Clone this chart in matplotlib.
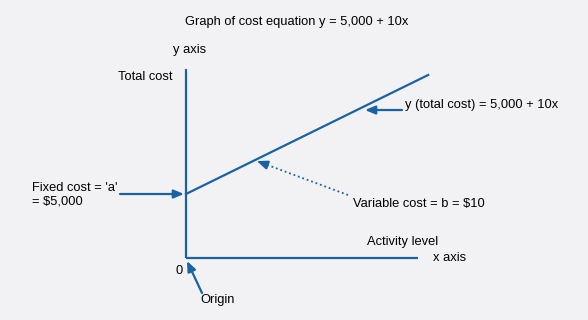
import matplotlib
matplotlib.use("Agg")
import matplotlib.pyplot as plt

# chart values
activity = [0, 930]
total_cost = [5000, 14300]
fixed_cost = 5000
axis_top = 14800
axis_right = 890

blue = "#1a62a3"
bg = "#f2f2f4"

plt.rcParams["font.family"] = ["Liberation Sans", "DejaVu Sans"]

fig = plt.figure(figsize=(5.88, 3.2), dpi=100, facecolor=bg)
ax = fig.add_axes([0, 0, 1, 1])
ax.set_facecolor(bg)

# pixel <-> data scale (origin sits at pixel 186, 258)
sx, sy = 3.84, 78.125
ox, oy = 186, 258
ax.set_xlim(-ox * sx, (588 - ox) * sx)
ax.set_ylim(-(320 - oy) * sy, oy * sy)
ax.axis("off")


def px(x, y):
    return ((x - ox) * sx, (oy - y) * sy)


# axes
ax.plot([0, 0], [0, axis_top], color=blue, lw=1.6, solid_capstyle="butt")
ax.plot([0, axis_right], [0, 0], color=blue, lw=1.6, solid_capstyle="butt")

# cost line
ax.plot(activity, total_cost, color=blue, lw=1.6)

fs = 9.3
ax.text(*px(297, 22), "Graph of cost equation y = 5,000 + 10x", ha="center", va="center", fontsize=fs)
ax.text(*px(173, 50), "y axis", ha="left", va="center", fontsize=fs)
ax.text(*px(118, 77), "Total cost", ha="left", va="center", fontsize=fs)
ax.text(*px(32, 188), "Fixed cost = 'a'", ha="left", va="center", fontsize=fs)
ax.text(*px(32, 201), "= $5,000", ha="left", va="center", fontsize=fs)
ax.text(*px(176, 271), "0", ha="left", va="center", fontsize=fs)
ax.text(*px(200, 300), "Origin", ha="left", va="center", fontsize=fs)
ax.text(*px(367, 242), "Activity level", ha="left", va="center", fontsize=fs)
ax.text(*px(433, 258), "x axis", ha="left", va="center", fontsize=fs)
ax.text(*px(353, 204), "Variable cost = b = $10", ha="left", va="center", fontsize=fs)
ax.text(*px(405, 105), "y (total cost) = 5,000 + 10x", ha="left", va="center", fontsize=fs)

arrow = dict(arrowstyle="-|>,head_length=0.6,head_width=0.25", color=blue, lw=1.6,
             shrinkA=0, shrinkB=0)

# fixed cost arrow
ax.annotate("", xy=(-2 * sx, fixed_cost), xytext=px(120, 194), arrowprops=arrow)

# origin arrow
ax.annotate("", xy=(1 * sx, -3 * sy), xytext=px(202, 293), arrowprops=arrow)

# total cost arrow
x_tc = (365 - ox) * sx
y_tc = fixed_cost + 10 * x_tc
ax.annotate("", xy=(x_tc, y_tc - 4 * sy), xytext=(x_tc + 37 * sx, y_tc - 4 * sy), arrowprops=arrow)

# variable cost dotted arrow: dotted shaft + solid head
x_vc = (257 - ox) * sx
y_vc = fixed_cost + 10 * x_vc
tip = (x_vc, y_vc - 2 * sy)
start = px(348, 195)
ax.plot([start[0], tip[0]], [start[1], tip[1]], color=blue, lw=1.3, linestyle=(0, (1, 1.6)))
dx, dy = (start[0] - tip[0]) * 0.1, (start[1] - tip[1]) * 0.1
ax.annotate("", xy=tip, xytext=(tip[0] + dx, tip[1] + dy), arrowprops=arrow)

fig.savefig("out.png", dpi=100, facecolor=bg)
